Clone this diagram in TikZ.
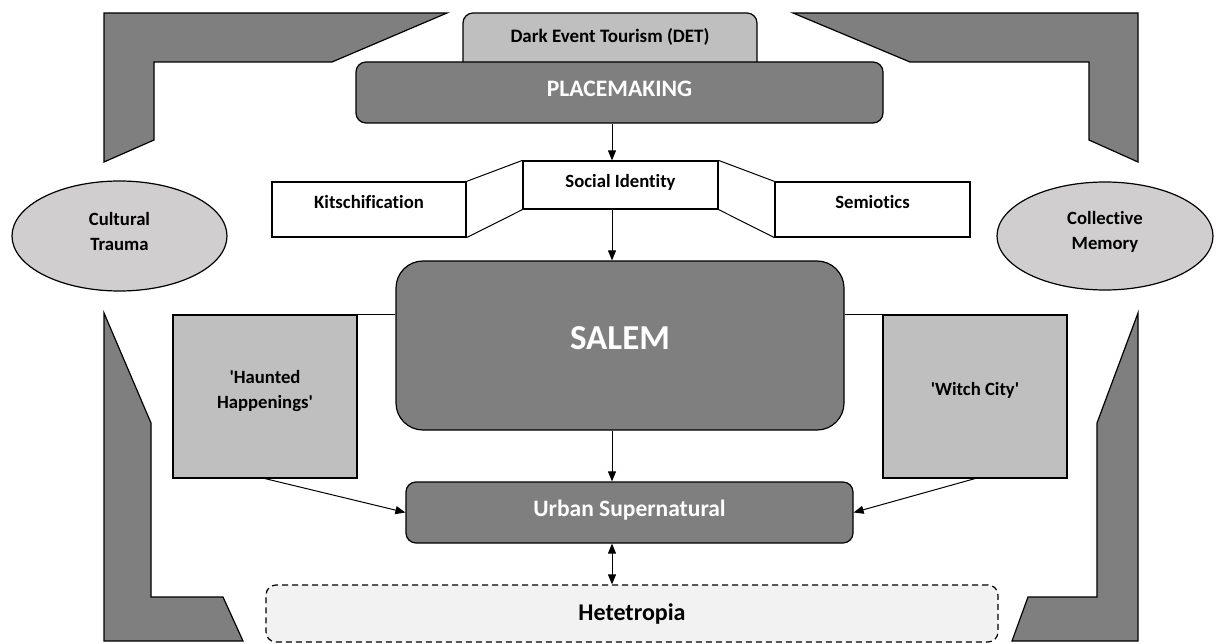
\documentclass[tikz,border=0pt]{standalone}
\usepackage{fontspec}
\setmainfont{Carlito}[Ligatures={TeX,NoCommon}]
\usetikzlibrary{arrows.meta,shapes.geometric}
\definecolor{darkfill}{HTML}{7F7F7F}
\definecolor{midfill}{HTML}{BFBFBF}
\definecolor{ovalfill}{HTML}{D0CECE}
\definecolor{palefill}{HTML}{F2F2F2}
\newcommand{\sq}{\textquotesingle}
\tikzset{
  outline/.style={draw=black,line width=1.2pt,inner sep=0pt},
  darkbox/.style={outline,fill=darkfill,rounded corners=10pt,text=white},
  greybox/.style={outline,fill=midfill,align=center},
  termbox/.style={outline,fill=white},
  oval/.style={outline,ellipse,fill=ovalfill,align=center},
  link/.style={line width=1pt,-{Triangle[length=10pt,width=8pt]}},
  bracket/.style={draw=black,line width=1.2pt,fill=darkfill}
}
\begin{document}
\begin{tikzpicture}[x=1pt,y=-1pt,font=\bfseries\fontsize{18.7}{24.5}\selectfont]
  \useasboundingbox (0,0) rectangle (1216,644);
  %% corner brackets
  \draw[bracket] (104,13) -- (447,13) -- (332,62) -- (154,62) -- (154,140) -- (104,162) -- cycle;
  \draw[bracket] (793,13) -- (1138,13) -- (1138,162) -- (1089,140) -- (1089,62) -- (910,62) -- cycle;
  \draw[bracket] (104,313) -- (151,423) -- (151,597) -- (223,597) -- (243,641) -- (104,641) -- cycle;
  \draw[bracket] (1138,313) -- (1138,641) -- (1012,641) -- (1028,597) -- (1097,597) -- (1097,423) -- cycle;
  %% top boxes
  \node[outline,fill=midfill,rounded corners=10pt,minimum width=294,minimum height=62,text depth=18pt,font=\bfseries\fontsize{19}{24}\selectfont] (det) at (610,44) {Dark Event Tourism (DET)};
  \node[darkbox,minimum width=527,minimum height=61,text depth=7pt,font=\bfseries\fontsize{23.6}{28}\selectfont] (placemaking) at (619.5,92.5) {PLACEMAKING};
  %% identity row
  \node[termbox,minimum width=194,minimum height=55,text depth=15pt] (kitsch) at (369,209.5) {Kitschification};
  \node[termbox,minimum width=195,minimum height=48,text depth=8pt] (social) at (620.5,185) {Social Identity};
  \node[termbox,minimum width=195,minimum height=55,text depth=15pt] (semiotics) at (872.5,209.5) {Semiotics};
  \draw[line width=1pt] (kitsch.north east) -- (social.north west);
  \draw[line width=1pt] (kitsch.south east) -- (social.south west);
  \draw[line width=1pt] (social.north east) -- (semiotics.north west);
  \draw[line width=1pt] (social.south east) -- (semiotics.south west);
  %% side ovals
  \node[oval,minimum width=215,minimum height=110,text depth=9pt] (trauma) at (119.5,236) {Cultural\\Trauma};
  \node[oval,minimum width=216,minimum height=108,text depth=11.5pt] (memory) at (1105,236) {Collective\\Memory};
  %% centre
  \node[darkbox,rounded corners=27pt,minimum width=448,minimum height=169,text depth=15pt,font=\bfseries\fontsize{35}{40}\selectfont] (salem) at (620,345.5) {SALEM};
  \node[greybox,minimum width=184,minimum height=163,text depth=14.5pt] (haunted) at (265,396.5) {\sq Haunted\\Happenings\sq};
  \node[greybox,minimum width=184,minimum height=163,text depth=14.5pt] (witch) at (975,396.5) {\sq Witch City\sq};
  \draw[line width=1pt] (haunted.north east) -- (haunted.north east -| salem.west);
  \draw[line width=1pt] (witch.north west) -- (witch.north west -| salem.east);
  \node[darkbox,minimum width=447,minimum height=61,text depth=9pt,font=\bfseries\fontsize{23.5}{28}\selectfont] (urban) at (629.5,512.5) {Urban Supernatural};
  \node[outline,fill=palefill,rounded corners=10pt,dash pattern=on 6pt off 4pt,minimum width=732,minimum height=57,font=\bfseries\fontsize{24}{28}\selectfont] (hetero) at (632,613.5) {Hetetropia};
  %% arrows
  \coordinate (axis) at (612,0);
  \draw[link] (placemaking.south -| axis) -- (social.north -| axis);
  \draw[link] (social.south -| axis) -- (salem.north -| axis);
  \draw[link] (salem.south -| axis) -- (urban.north -| axis);
  \draw[link,{Triangle[length=10pt,width=8pt]}-{Triangle[length=10pt,width=8pt]}] (urban.south -| axis) -- (hetero.north -| axis);
  \draw[link] (haunted.south) -- (urban.west);
  \draw[link] (witch.south) -- (urban.east);
\end{tikzpicture}
\end{document}
